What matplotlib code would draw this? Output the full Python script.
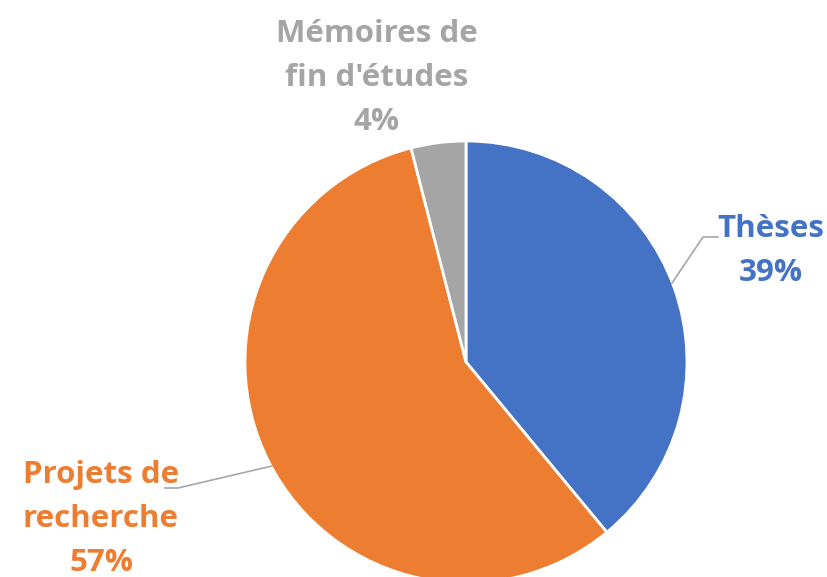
import matplotlib.pyplot as plt

categories = ["Thèses", "Projets de\nrecherche", "Mémoires de\nfin d'études"]
values = [39, 57, 4]
colors = ["#4472C4", "#ED7D31", "#A5A5A5"]

W, H = 828, 577
fig = plt.figure(figsize=(W / 100, H / 100), dpi=100)
ax = fig.add_axes([0, 0, 1, 1])

cx, cy, r = 466, H - 362, 221

ax.pie(values, colors=colors, startangle=90, counterclock=False,
       center=(cx, cy), radius=r, frame=True,
       wedgeprops=dict(edgecolor="white", linewidth=2))
ax.set_xlim(0, W)
ax.set_ylim(0, H)
ax.set_aspect("equal")
ax.axis("off")

# label positions (pixel coords from top-left)
label_pos = [(771, 251), (101, 519), (377, 78)]
for name, val, col, (lx, ly) in zip(categories, values, colors, label_pos):
    ax.text(lx, H - ly, f"{name}\n{val}%", color=col, ha="center", va="center",
            fontsize=22.5, fontweight="bold", family=["Open Sans", "DejaVu Sans"],
            linespacing=1.59)

# leader lines
lc = "#A6A6A6"
ax.plot([718, 703, 672], [H - 237, H - 237, H - 283], color=lc, lw=1.2)
ax.plot([165, 178, 272], [H - 488, H - 488, H - 466], color=lc, lw=1.2)

fig.savefig("out.png", dpi=100)
